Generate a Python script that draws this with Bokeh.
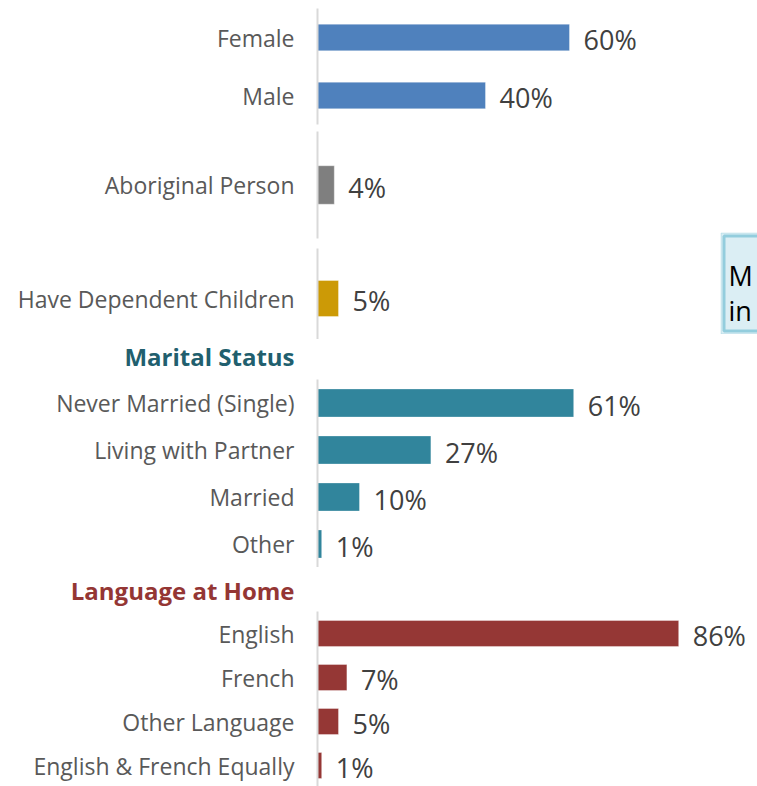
from bokeh.plotting import figure
from bokeh.models import Range1d, FixedTicker, Spacer
from bokeh.layouts import column, row
from bokeh.core.properties import value
from bokeh.embed import file_html
from bokeh.resources import INLINE

# ---------------- data ----------------
gender_labels = ["Female", "Male"]
gender_values = [60, 40]

aboriginal_labels = ["Aboriginal Person"]
aboriginal_values = [4]

children_labels = ["Have Dependent Children"]
children_values = [5]

marital_title = "Marital Status"
marital_labels = ["Never Married (Single)", "Living with Partner", "Married", "Other"]
marital_values = [61, 27, 10, 1]

language_title = "Language at Home"
language_labels = ["English", "French", "Other Language", "English & French Equally"]
language_values = [86, 7, 5, 1]

box_lines = ["M", "in"]

# ---------------- style ----------------
FONT = "Open Sans"
PX_PER_PCT = 4.2
LEFT = 317
FULL_W = 757
LABEL_COLOR = "#595959"
VALUE_COLOR = "#404040"
AXIS_COLOR = "#d9d9d9"


def style_axis(ax, ticks, labels, size, color, bold=False, line=True):
    ax.ticker = FixedTicker(ticks=ticks)
    ax.major_label_overrides = {t: lab for t, lab in zip(ticks, labels)}
    ax.axis_line_color = AXIS_COLOR if line else None
    ax.axis_line_width = 2
    ax.major_tick_line_color = None
    ax.minor_tick_line_color = None
    ax.major_tick_out = 0
    ax.major_tick_in = 0
    ax.major_label_standoff = 23
    ax.major_label_text_font = FONT
    ax.major_label_text_font_size = size
    ax.major_label_text_color = color
    if bold:
        ax.major_label_text_font_style = "bold"


def base_fig(width, height, x_range, y_range, top=0, bottom=0):
    p = figure(width=width, height=height, output_backend="svg",
               toolbar_location=None, x_axis_location=None,
               x_range=x_range, y_range=y_range,
               min_border_left=LEFT, min_border_right=0,
               min_border_top=top, min_border_bottom=bottom)
    p.outline_line_color = None
    p.grid.visible = False
    p.background_fill_color = "white"
    p.border_fill_color = "white"
    return p


def bar_group(labels, values, color, width, frame_h, bar_h, top=0, bottom=0, y_end=None):
    n = len(labels)
    idx = list(range(n))
    start = (n - 0.5) if y_end is None else y_end
    frame_w = width - LEFT
    p = base_fig(width, frame_h + top + bottom, Range1d(0, frame_w / PX_PER_PCT),
                 Range1d(start, -0.5), top, bottom)
    p.hbar(y=idx, right=values, left=0, height=bar_h, fill_color=color,
           line_color="white", line_alpha=0.35, line_width=1)
    p.text(x=values, y=idx, text=[f"{v}%" for v in values], x_offset=14, y_offset=2,
           text_baseline="middle", text_align="left",
           text_font=value(FONT), text_font_size="27px", text_color=VALUE_COLOR)
    style_axis(p.yaxis[0], idx, labels, "23px", LABEL_COLOR)
    return p


def header(text, color, height, center):
    h = base_fig(FULL_W, height, Range1d(0, 1), Range1d(height, 0))
    h.scatter(x=[0.5], y=[center], size=0, alpha=0)
    style_axis(h.yaxis[0], [center], [text], "24px", color, bold=True, line=False)
    return h


g1 = bar_group(gender_labels, gender_values, "#4f81bd", 720, 116, 0.46, top=8, bottom=7)
g2 = bar_group(aboriginal_labels, aboriginal_values, "#7f7f7f", 720, 107, 0.36, bottom=10)
g3 = bar_group(children_labels, children_values, "#cc9a06", 720, 91, 0.36, y_end=0.41)

# note box at right edge (cut off)
BOX_W = FULL_W - 720
box = figure(width=BOX_W, height=102, output_backend="svg", toolbar_location=None,
             x_axis_location=None, y_axis_location=None,
             x_range=Range1d(0, BOX_W), y_range=Range1d(102, 0),
             min_border_left=0, min_border_right=0, min_border_top=0, min_border_bottom=0)
box.outline_line_color = None
box.grid.visible = False
box.quad(left=[0.5], right=[300], top=[0.5], bottom=[101.5],
         fill_color="#dbeef4", line_color="#b7dde8", line_width=1)
box.quad(left=[3.5], right=[300], top=[3.5], bottom=[98.5],
         fill_color=None, line_color="#93cddd", line_width=3)
box.text(x=[8, 8], y=[43, 78], text=box_lines, text_baseline="alphabetic",
         text_font=value(FONT), text_font_size="27px", text_color="#000000")

h1 = header(marital_title, "#215f6e", 40, 16)
g4 = bar_group(marital_labels, marital_values, "#31859c", FULL_W, 188, 0.6)
h2 = header(language_title, "#943634", 44, 23)
g5 = bar_group(language_labels, language_values, "#953735", FULL_W, 175, 0.59, y_end=3.477)

top_row = row(column(g1, g2, g3),
              column(Spacer(width=BOX_W, height=232), box, Spacer(width=BOX_W, height=5)))
layout = column(top_row, h1, g4, h2, g5)

open("out.html", "w").write(file_html(layout, INLINE))
